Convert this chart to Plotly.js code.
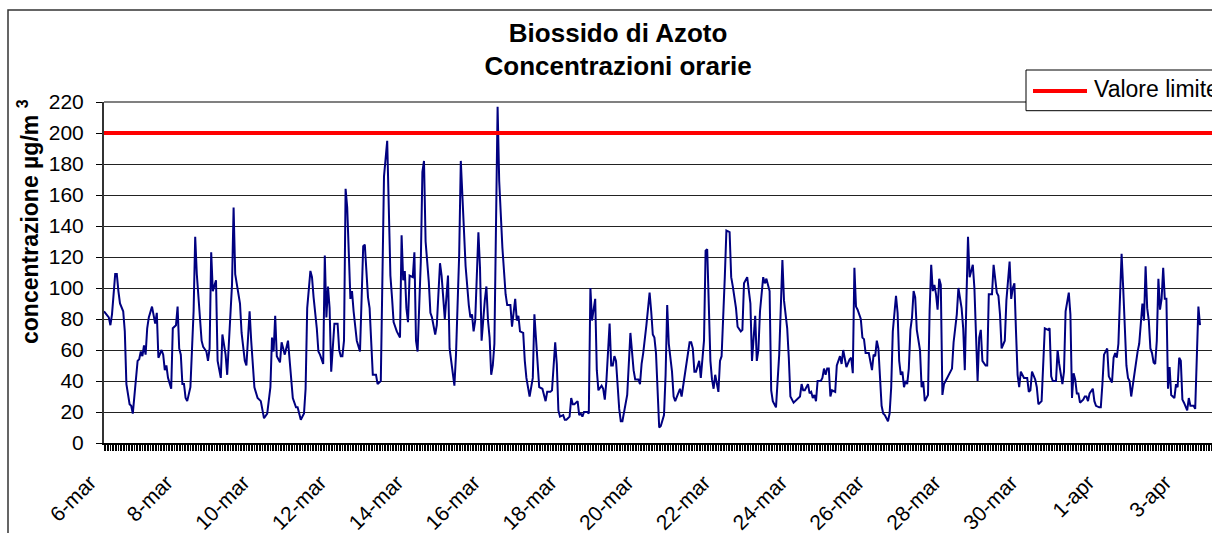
<!DOCTYPE html>
<html>
<head>
<meta charset="utf-8">
<script src="https://cdn.plot.ly/plotly-3.0.1.min.js"></script>
<style>
html,body{margin:0;padding:0;background:#fff;}
#chart{width:1212px;height:533px;}
</style>
</head>
<body>
<div id="chart"></div>
<script>
var ore = [
0,3,4,5,7,8,9,10,12,13,14,15,16,17,18,21,22,23,24,25,26,27,28,30,32,33,34,36,37,38,39,40,42,43,45,46,47,48,49,50,51,52,54,56,57,58,60,61,62,64,65,66,67,68,70,71,73,74,76,77,80,81,82,85,86,88,89,91,92,94,96,97,98,100,102,104,105,106,107,108,110,111,113,
115,117,118,120,121,123,125,126,127,129,130,131,133,134,135,137,138,139,140,141,142,144,146,147,148,149,150,151,152,154,155,156,158,160,162,163,165,166,168,170,171,173,175,177,178,179,180,181,183,185,186,187,188,189,190,191,193,194,195,196,198,199,200,201,203,204,205,207,208,210,211,213,215,216,218,219,220,222,223,226,228,
229,230,231,232,234,235,236,238,239,240,241,242,243,244,246,247,248,249,250,251,252,254,255,256,257,258,259,260,262,263,264,266,268,269,271,272,274,275,276,277,279,280,282,283,284,285,287,288,289,291,292,293,294,296,297,298,299,300,302,303,304,305,307,308,309,311,312,313,314,316,317,318,319,320,322,323,324,327,329,331,332,334,335,336,337,339,341,342,343,344,
345,347,348,350,351,352,353,355,356,357,359,360,361,363,365,366,367,368,369,370,372,373,375,376,377,379,380,381,382,384,385,386,388,389,391,392,393,395,396,398,399,400,402,403,404,405,407,408,409,410,412,413,414,416,417,418,420,422,424,425,427,428,429,431,433,435,436,437,438,440,441,442,443,444,445,446,448,449,450,451,452,453,454,455,457,458,460,
461,462,463,464,466,467,468,469,470,471,473,474,475,476,478,479,480,481,482,483,484,486,487,488,490,491,492,493,495,496,497,498,499,500,501,502,503,504,505,506,507,508,510,511,512,513,515,516,517,518,519,520,521,522,523,524,525,526,528,529,530,531,533,534,536,537,538,539,540,541,543,544,546,547,548,549,551,552,553,555,556,558,559,560,561,563,564,566,567,568,569,570,571,572,573,575,
577,578,579,580,582,583,584,586,587,588,590,591,592,593,595,596,597,599,600,601,603,604,605,606,607,608,609,610,612,613,614,615,616,618,619,620,622,623,624,625,627,628,629,630,631,632,633,634,635,636,637,638,639,640,641,642,643,645,646,647,649,650,651,652,653,654,655,656,657,658,659,660,661,662,663,664,665,666,667,669,670,671,672,673,674,675,677,678,679,680,681,682,683,684,685
];
// NO2 hourly concentration, µg/m3
var no2 = [
85,81,76,83,109,109,98,90,85,72,38,32,25,24,19,53,54,59,56,63,57,74,81,88,77,84,55,60,57,47,50,42,35,74,76,88,61,57,38,38,29,27,36,85,133,109,83,66,62,59,53,61,123,98,105,53,42,70,57,44,102,152,109,90,71,53,50,85,66,36,29,28,27,16,19,36,68,59,82,56,52,65,57,
66,40,29,23,23,15,19,35,87,111,107,94,74,59,57,51,121,81,101,87,46,77,77,60,56,56,66,164,152,93,98,85,66,59,127,128,94,87,44,44,38,40,172,195,139,108,94,78,72,68,134,105,111,87,78,108,107,123,66,59,117,175,182,130,104,84,81,70,76,116,108,80,108,61,45,37,57,122,182,114,89,
81,83,72,79,136,113,66,92,101,79,68,44,50,64,217,169,141,126,111,96,89,89,75,83,93,79,82,72,71,53,42,30,42,83,48,36,35,30,27,33,33,34,65,51,21,17,18,15,15,17,29,25,25,27,18,19,17,20,20,19,100,79,93,47,34,37,35,28,40,77,50,50,56,53,22,14,14,31,71,47,41,41,38,51,58,76,97,85,70,68,
58,10,11,18,44,89,64,46,30,27,32,35,30,44,57,65,65,61,46,46,53,42,66,124,125,53,41,35,44,33,53,56,107,137,136,107,101,87,75,72,73,103,107,98,90,53,82,53,60,85,107,103,106,98,34,27,23,57,118,92,74,55,30,26,28,30,38,34,34,38,32,33,29,31,27,40,40,42,48,44,48,48,30,34,33,50,56,
51,60,55,49,54,55,45,113,88,86,80,68,67,58,58,53,47,57,56,66,61,24,19,18,14,19,36,72,95,84,53,44,46,36,40,38,48,73,81,98,94,73,60,36,40,27,31,85,115,98,102,96,86,106,102,31,38,40,44,47,48,65,83,100,87,74,47,92,133,107,115,100,40,68,73,53,50,50,96,96,115,97,95,83,61,66,92,117,93,100,103,72,44,36,46,42,
42,33,34,46,41,36,25,27,55,74,73,74,43,40,40,60,51,38,46,85,97,83,29,45,41,32,32,26,28,30,30,27,32,35,27,24,23,23,38,57,61,43,41,39,55,58,55,64,94,122,100,76,50,42,40,30,38,54,59,64,90,79,114,87,79,61,58,52,51,66,106,86,93,113,93,93,35,49,31,29,38,36,55,53,28,26,21,29,24,24,24,22,55,88,76
];
// Limit value
var oreLimite = [0, 692.5];
var valoreLimite = [200, 200];
// Tick labels
var tickOre = [0,48,96,144,192,240,288,336,384,432,480,528,576,624,672];
var tickEtichette = ['6-mar','8-mar','10-mar','12-mar','14-mar','16-mar','18-mar','20-mar','22-mar','24-mar','26-mar','28-mar','30-mar','1-apr','3-apr'];
var yTicks = [0,20,40,60,80,100,120,140,160,180,200,220];

var FONT = 'Liberation Sans, Arial, Helvetica, sans-serif';
var L = 104, T = 102, B = 90, W = 1212, H = 533;
var pw = W - L, ph = H - T - B;
function px(x){ return (x - L) / pw; }
function py(y){ return (H - B - y) / ph; }

var traces = [
  {x: ore, y: no2, type: 'scatter', mode: 'lines', name: 'NO2',
   line: {color: '#000080', width: 2}, showlegend: false, hoverinfo: 'x+y'},
  {x: oreLimite, y: valoreLimite, type: 'scatter', mode: 'lines', name: 'Valore limite',
   line: {color: '#FF0000', width: 4}, showlegend: false}
];

var layout = {
  width: W, height: H,
  margin: {l: L, r: 0, t: T, b: B, pad: 0},
  paper_bgcolor: '#ffffff', plot_bgcolor: '#ffffff',
  font: {family: FONT, color: '#000'},
  showlegend: false,
  title: {
    text: '<b>Biossido di Azoto<br>Concentrazioni orarie</b>',
    font: {family: FONT, size: 26, color: '#000'},
    x: 0.51, xref: 'container', xanchor: 'center',
    y: 0.922, yref: 'container', yanchor: 'top'
  },
  xaxis: {
    range: [0, 692.5], autorange: false,
    tickmode: 'array', tickvals: tickOre, ticktext: tickEtichette,
    tickangle: -45, tickfont: {family: FONT, size: 21, color: '#000'},
    ticks: 'outside', ticklen: 6, tickcolor: '#000', tickwidth: 1,
    ticklabelstandoff: 11, ticklabelshift: -14,
    minor: {ticks: 'outside', dtick: 1, tick0: 0, ticklen: 6, tickcolor: '#000', tickwidth: 1, showgrid: false},
    showline: true, linecolor: '#000', linewidth: 2,
    showgrid: false, zeroline: false, fixedrange: true
  },
  yaxis: {
    range: [0, 220], autorange: false,
    tickmode: 'array', tickvals: yTicks,
    tickfont: {family: FONT, size: 21, color: '#000'},
    ticks: 'outside', ticklen: 6, tickcolor: '#000', tickwidth: 1,
    ticklabelstandoff: 8,
    showline: true, linecolor: '#333', linewidth: 2,
    showgrid: true, gridcolor: '#222', gridwidth: 1,
    zeroline: false, fixedrange: true
  },
  shapes: [
    {type: 'rect', xref: 'paper', yref: 'paper', x0: px(8), x1: 1.2, y0: -0.5, y1: py(10),
     line: {color: '#333', width: 1.5}, fillcolor: 'rgba(0,0,0,0)', layer: 'below'},
    {type: 'line', xref: 'paper', yref: 'paper', x0: 0, x1: 1, y0: 1, y1: 1,
     line: {color: '#808080', width: 2}, layer: 'above'},
    {type: 'rect', xref: 'paper', yref: 'paper', x0: px(1026), x1: 1.2, y0: py(110.7), y1: py(70),
     line: {color: '#000', width: 1}, fillcolor: '#ffffff', layer: 'above'},
    {type: 'line', xref: 'paper', yref: 'paper', x0: px(1033), x1: px(1087), y0: py(91), y1: py(91),
     line: {color: '#FF0000', width: 4}, layer: 'above'}
  ],
  annotations: [
    {text: 'Valore limite', xref: 'paper', yref: 'paper', x: px(1092), y: py(89),
     xanchor: 'left', yanchor: 'middle', showarrow: false,
     font: {family: FONT, size: 23, color: '#000'}},
    {text: '<b>concentrazione µg/m <sup>3</sup></b>', xref: 'paper', yref: 'paper',
     x: px(28), y: py(222), xanchor: 'center', yanchor: 'middle', textangle: -90, showarrow: false,
     font: {family: FONT, size: 23, color: '#000'}}
  ]
};

Plotly.newPlot('chart', traces, layout, {displayModeBar: false, staticPlot: true});
</script>
</body>
</html>
